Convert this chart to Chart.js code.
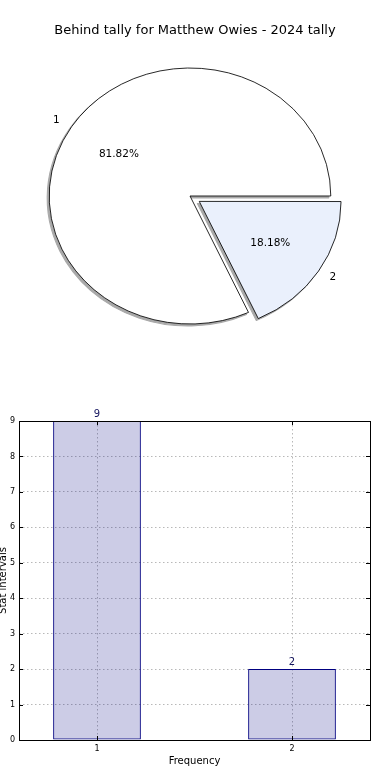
<!DOCTYPE html>
<html>
<head>
<meta charset="utf-8">
<script src="https://cdn.jsdelivr.net/npm/chart.js@4"></script>
<style>
  html, body { margin: 0; padding: 0; background: #fff; }
  body { width: 390px; height: 780px; position: relative; overflow: hidden; }
  .box { position: absolute; left: 0; width: 390px; height: 390px; }
  #pieBox { top: 0; }
  #barBox { top: 390px; }
</style>
</head>
<body>
<div class="box" id="pieBox"><canvas id="pie"></canvas></div>
<div class="box" id="barBox"><canvas id="bar"></canvas></div>
<script>
var chartTitle = "Behind tally for Matthew Owies - 2024 tally";
var categories = ["1", "2"];
var counts = [9, 2];
var barPositions = [1, 2];
var yTicks = [0, 1, 2, 3, 4, 5, 6, 7, 8, 9];
var sliceColors = ["#ffffff", "#eaf0fc"];

var FONT = "'DejaVu Sans', sans-serif";
var STRETCH_X = 1.1;   // pie is drawn as an ellipse

Chart.defaults.font.family = FONT;
Chart.defaults.color = "#000";
Chart.defaults.animation = false;


// pie: stretch to ellipse, draw a flat shadow of every slice first
var ellipsePlugin = {
    id: "ellipse",
    beforeDatasetsDraw: function (chart) {
        var meta = chart.getDatasetMeta(0);
        var first = meta.data[0];
        var ctx = chart.ctx;

        ctx.save();
        ctx.translate(-2, 2);
        ctx.translate(first.x, first.y);
        ctx.scale(STRETCH_X, 1);
        ctx.translate(-first.x, -first.y);
        meta.data.forEach(function (arc) {
            var keep = arc.options;
            arc.options = Object.assign({}, keep, {
                backgroundColor: "#a9a9a9", borderColor: "#a9a9a9", borderWidth: 1
            });
            arc.draw(ctx);
            arc.options = keep;
        });
        ctx.restore();

        ctx.save();
        ctx.translate(first.x, first.y);
        ctx.scale(STRETCH_X, 1);
        ctx.translate(-first.x, -first.y);
    },
    afterDatasetsDraw: function (chart) {
        chart.ctx.restore();
    }
};

// pie: title, category labels outside, percentages inside
var pieLabels = {
    id: "pieLabels",
    afterDraw: function (chart) {
        var ctx = chart.ctx;
        var meta = chart.getDatasetMeta(0);
        var total = counts.reduce(function (a, b) { return a + b; }, 0);
        ctx.save();
        ctx.fillStyle = "#000";
        ctx.textBaseline = "middle";
        ctx.textAlign = "center";
        ctx.font = "13px " + FONT;
        ctx.fillText(chartTitle, chart.width / 2, 31);

        ctx.font = "10.5px " + FONT;
        meta.data.forEach(function (arc, i) {
            var p = arc.getProps(["x", "y", "startAngle", "endAngle", "outerRadius"], true);
            var mid = (p.startAngle + p.endAngle) / 2;
            var off = (arc.options.offset || 0) / 4;
            var cx = p.x + Math.cos(mid) * off * STRETCH_X;
            var cy = p.y + Math.sin(mid) * off;
            var r = p.outerRadius;
            var cos = Math.cos(mid), sin = Math.sin(mid);
            ctx.textAlign = cos > 0 ? "left" : "right";
            ctx.fillText(categories[i], cx + cos * r * 1.1 * STRETCH_X, cy + sin * r * 1.1);
            ctx.textAlign = "center";
            var pct = (counts[i] / total * 100).toFixed(2) + "%";
            ctx.fillText(pct, cx + cos * r * 0.6 * STRETCH_X, cy + sin * r * 0.6);
        });
        ctx.restore();
    }
};

new Chart(document.getElementById("pie"), {
    type: "pie",
    data: {
        labels: categories,
        datasets: [{
            data: counts,
            backgroundColor: sliceColors,
            borderColor: "#000",
            borderWidth: 0.8,
            offset: [0, 40]
        }]
    },
    options: {
        responsive: true,
        maintainAspectRatio: false,
        rotation: 155.45,
        radius: 128,
        layout: { padding: { left: 40, right: 50, top: 50, bottom: 48 } },
        plugins: {
            legend: { display: false },
            tooltip: { enabled: false },
            title: { display: false }
        }
    },
    plugins: [ellipsePlugin, pieLabels]
});


// bar: full frame, inward ticks, value labels
var framePlugin = {
    id: "frame",
    afterDatasetsDraw: function (chart) {
        var ctx = chart.ctx;
        var a = chart.chartArea;
        var xs = chart.scales.x, ys = chart.scales.y;
        ctx.save();
        ctx.strokeStyle = "#000";
        ctx.lineWidth = 1;
        ctx.strokeRect(Math.round(a.left) + 0.5, Math.round(a.top) + 0.5,
            Math.round(a.right - a.left), Math.round(a.bottom - a.top));
        ctx.beginPath();
        yTicks.forEach(function (v) {
            var y = Math.round(ys.getPixelForValue(v)) + 0.5;
            ctx.moveTo(a.left, y); ctx.lineTo(a.left + 4, y);
            ctx.moveTo(a.right, y); ctx.lineTo(a.right - 4, y);
        });
        barPositions.forEach(function (v) {
            var x = Math.round(xs.getPixelForValue(v)) + 0.5;
            ctx.moveTo(x, a.bottom); ctx.lineTo(x, a.bottom - 4);
            ctx.moveTo(x, a.top); ctx.lineTo(x, a.top + 4);
        });
        ctx.stroke();

        ctx.font = "10px " + FONT;
        ctx.fillStyle = "#14145e";
        ctx.textAlign = "center";
        ctx.textBaseline = "bottom";
        chart.getDatasetMeta(0).data.forEach(function (bar, i) {
            ctx.fillText(String(counts[i]), bar.x, bar.y - 2);
        });
        ctx.restore();
    }
};

new Chart(document.getElementById("bar"), {
    type: "bar",
    data: {
        datasets: [{
            data: barPositions.map(function (x, i) { return { x: x, y: counts[i] }; }),
            backgroundColor: "rgba(0,0,128,0.2)",
            borderColor: "#000080",
            borderWidth: 1,
            borderSkipped: false,
            barPercentage: 0.45,
            categoryPercentage: 1
        }]
    },
    options: {
        responsive: true,
        maintainAspectRatio: false,
        layout: { padding: { left: 0, right: 20, top: 31, bottom: 0 } },
        plugins: {
            legend: { display: false },
            tooltip: { enabled: false }
        },
        scales: {
            x: {
                type: "linear",
                min: 0.6,
                max: 2.4,
                offset: false,
                afterFit: function (s) { s.height = 40; },
                afterBuildTicks: function (s) {
                    s.ticks = barPositions.map(function (v) { return { value: v }; });
                },
                ticks: {
                    font: { size: 8 },
                    color: "#000",
                    padding: 4,
                    callback: function (v) { return String(v); }
                },
                grid: { color: "#b8b8b8", lineWidth: 1, drawTicks: false, offset: false },
                border: { display: false, dash: [1.5, 2.5] },
                title: {
                    display: true,
                    text: "Frequency",
                    color: "#000",
                    font: { size: 10 },
                    padding: { top: 0, bottom: 13 }
                }
            },
            y: {
                min: 0,
                max: 9,
                afterFit: function (s) { s.width = 19; },
                afterBuildTicks: function (s) {
                    s.ticks = yTicks.map(function (v) { return { value: v }; });
                },
                ticks: {
                    font: { size: 8 },
                    color: "#000",
                    padding: 4
                },
                grid: { color: "#b8b8b8", lineWidth: 1, drawTicks: false },
                border: { display: false, dash: [1.5, 2.5] },
                title: {
                    display: true,
                    text: "Stat intervals",
                    color: "#000",
                    font: { size: 10 },
                    padding: { top: -3, bottom: 0 }
                }
            }
        }
    },
    plugins: [framePlugin]
});
</script>
</body>
</html>
